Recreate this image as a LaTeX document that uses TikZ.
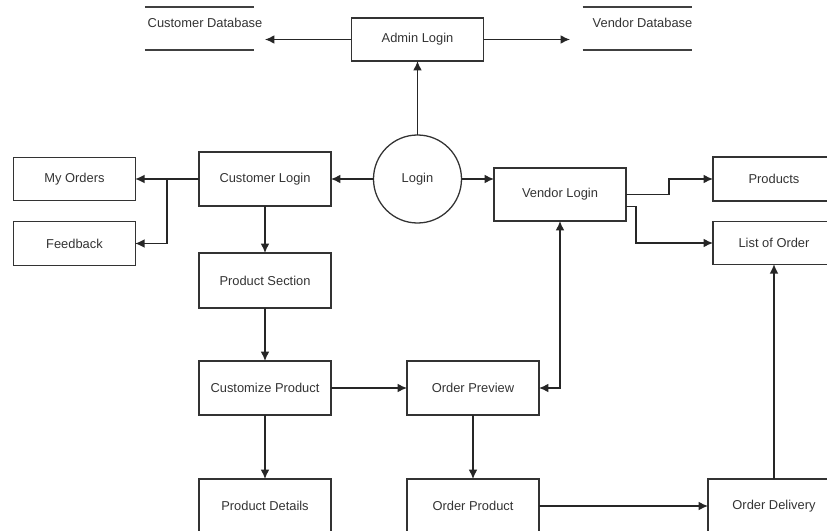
\documentclass[tikz,border=0pt]{standalone}
\usepackage{fontspec}
\setmainfont{Liberation Sans}
\usepackage{xcolor}
\usepackage{tikz}
\usetikzlibrary{arrows.meta}

\begin{document}
\begin{tikzpicture}[x=0.03cm,y=-0.03cm,every node/.style={outer sep=0pt, inner sep=0pt, text=black!80, font=\fontsize{11}{13}\selectfont},
  box/.style={draw=black!80, line width=1.1pt, minimum width=3.96cm, minimum height=1.62cm},
  smallbox/.style={draw=black!80, line width=1.1pt, minimum width=3.64cm, minimum height=1.3cm},
  store/.style={minimum width=3.27cm, minimum height=1.29cm},
  flow/.style={-{Latex[length=0.28cm,width=0.26cm]}, draw=black!85, line width=1.1pt},
  both/.style={{Latex[length=0.28cm,width=0.26cm]}-{Latex[length=0.28cm,width=0.26cm]}},
  dbline/.style={draw=black!75, line width=1.1pt}]
\path[use as bounding box] (0,0) rectangle (827,531);
\clip (0,0) rectangle (827,531);
\node[box, minimum height=1.29cm] (admin) at (417.5,39.5) {Admin Login};
\node[store] (custdb) at (199.5,28.5) {};
\node (custdbtext) at (205,23) {Customer Database};
\node[store] (vendordb) at (637,28.5) {};
\node (vendordbtext) at (642.5,23) {Vendor Database};
\coordinate (custdbin) at (265,39.5);
\coordinate (vendordbin) at (570,39.5);
\node[circle, draw=black!80, line width=1.1pt, minimum size=2.64cm] (login) at (417.5,179) {Login};
\node[box] (cust) at (265,179) {Customer Login};
\node[smallbox] (myorders) at (74.5,179) {My Orders};
\node[smallbox] (feedback) at (74.5,243.5) {Feedback};
\node[box, minimum height=1.59cm] (vendor) at (560,194.5) {Vendor Login};
\node[smallbox, minimum width=3.66cm, minimum height=1.32cm] (products) at (774,179) {Products};
\node[smallbox, minimum width=3.66cm, minimum height=1.27cm] (orderlist) at (774,243) {List of Order};
\node[box, minimum height=1.65cm] (section) at (265,280.5) {Product Section};
\node[box] (custom) at (265,388) {Customize Product};
\node[box] (preview) at (473,388) {Order Preview};
\node[box] (details) at (265,506) {Product Details};
\node[box] (orderprod) at (473,506) {Order Product};
\node[box] (delivery) at (774,506) {Order Delivery};
\draw[dbline] (custdb.north west) -- (custdb.north east) (custdb.south west) -- (custdb.south east);
\draw[dbline] (vendordb.north west) -- (vendordb.north east) (vendordb.south west) -- (vendordb.south east);
\draw[flow] (admin.west) -- (custdbin);
\draw[flow] (admin.east) -- (vendordbin);
\draw[flow] (login.north) -- (admin.south);
\draw[flow] (login.west) -- (cust.east);
\draw[flow] (login.east) -- (login.east -| vendor.west);
\draw[flow] (cust.west) -- (myorders.east);
\draw[flow] (cust.west) -- ++(-32,0) |- (feedback.east);
\draw[flow] (vendor.east) -- ++(43,0) |- (products.west);
\draw[flow] ([yshift=-0.36cm]vendor.east) -- ++(10,0) |- (orderlist.west);
\draw[flow] (cust.south) -- (section.north);
\draw[flow] (section.south) -- (custom.north);
\draw[flow] (custom.east) -- (preview.west);
\draw[flow, both] (vendor.south) |- (preview.east);
\draw[flow] (custom.south) -- (details.north);
\draw[flow] (preview.south) -- (orderprod.north);
\draw[flow] (orderprod.east) -- (delivery.west);
\draw[flow] (delivery.north) -- (orderlist.south);
\end{tikzpicture}
\end{document}
